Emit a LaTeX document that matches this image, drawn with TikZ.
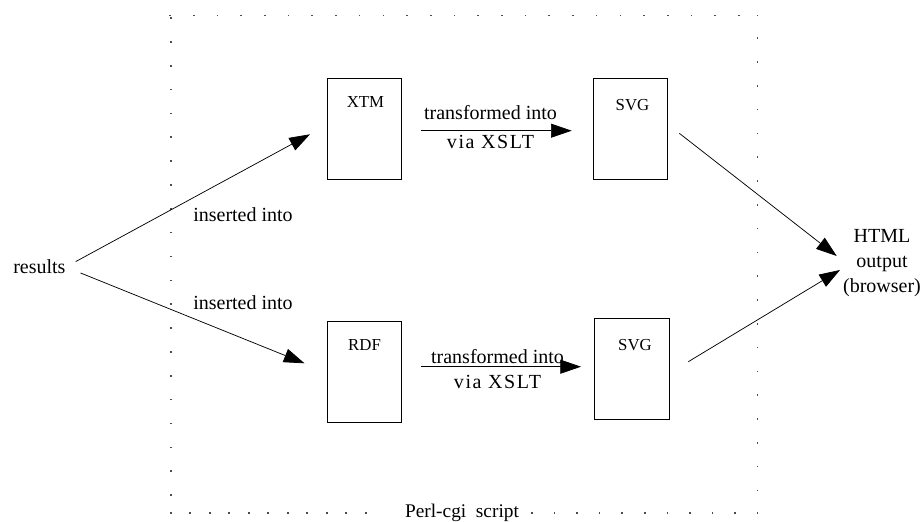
\documentclass[tikz,border=0pt]{standalone}
\usepackage{fontspec}
\setmainfont{Liberation Serif}
\usetikzlibrary{arrows.meta}
\begin{document}
\begin{tikzpicture}[x=0.75pt,y=-0.75pt,
  docbox/.style={draw,line width=0.6pt,inner sep=0pt,outer sep=0pt,
                 minimum width=55.5pt,minimum height=75.75pt},
  lbl/.style={inner sep=0pt,font=\fontsize{15}{18}\selectfont},
  small/.style={inner sep=0pt,font=\fontsize{12.6}{15}\selectfont},
  flow/.style={line width=0.55pt,-{Triangle[length=15.5pt,width=10.5pt]}},
  dotmark/.style={fill=black!70}]
\useasboundingbox (0,0) rectangle (923,521);

% dotted frame of the script
\foreach \i in {0,...,24} \fill[dotmark] ({170+\i*23.7-0.8},14.7) rectangle ++(1.6,1.6);
\fill[dotmark] (756.7,14.7) rectangle ++(1.6,1.6);
\foreach \j in {0,...,20} \fill[dotmark] (169.9,{18+\j*23.85-0.8}) rectangle ++(1.6,1.6);
\foreach \j in {-4,...,15} \fill[dotmark] (756.7,{133.3+\j*23.8-0.8}) rectangle ++(1.6,1.6);
\foreach \i in {0,...,10} \fill[dotmark] ({170.7+\i*19.5-0.8},512.2) rectangle ++(1.6,1.6);
\foreach \i in {0,...,10} \fill[dotmark] ({532+\i*22.55-0.8},512.2) rectangle ++(1.6,1.6);
\node[lbl,font=\fontsize{14.5}{18}\selectfont,anchor=base] (perl) at (462,517) {Perl-cgi\ \ script};

% documents
\node[docbox] (xtm) at (364,128.5) {};
\node[docbox] (svgtop) at (630,128.5) {};
\node[docbox] (rdf) at (364,371.5) {};
\node[docbox,minimum width=56.25pt] (svgbot) at (631.5,368.5) {};
\node[small] (xtmlbl) at (365.5,102) {XTM};
\node[small] (svgtoplbl) at (632.5,105) {SVG};
\node[small] (rdflbl) at (364.5,345) {RDF};
\node[small] (svgbotlbl) at (635,345) {SVG};

% source and sink
\node[lbl,anchor=west] (results) at (13,267) {results};
\node[lbl,align=center,font=\fontsize{15}{18.75}\selectfont] (html) at (882,263) {HTML\\output\\(browser)};

% edge labels
\node[lbl] (ins1) at (243,215) {inserted into};
\node[lbl] (ins2) at (243,303) {inserted into};
\node[lbl,align=center,font=\fontsize{15}{21.5}\selectfont] (tr1) at (490.5,127.3)
  {transformed into\\{\addfontfeature{LetterSpace=8}via XSLT}};
\node[lbl,align=center,font=\fontsize{15}{18.75}\selectfont] (tr2) at (497.5,369.2)
  {transformed into\\{\addfontfeature{LetterSpace=8}via XSLT}};

% arrow ends
\coordinate (inxtm) at (310,134.3);
\coordinate (inrdf) at (304.5,363.3);
\coordinate (outtop) at (679.3,133.3);
\coordinate (outbot) at (688.3,361.7);
\coordinate (htmlin1) at (836.7,256);
\coordinate (htmlin2) at (840,270);

% connectors
\draw[flow,shorten <=8.5pt] (results.east) -- (inxtm);
\draw[flow,shorten <=12pt] (results.east) -- (inrdf);
\draw[flow,shorten <=15pt,shorten >=16pt] (xtm.east |- 0,130.7) -- (svgtop.west |- 0,130.7);
\draw[flow,shorten <=15pt,shorten >=9.75pt] (rdf.east |- 0,366.7) -- (svgbot.west |- 0,366.7);
\draw[flow] (outtop) -- (htmlin1);
\draw[flow] (outbot) -- (htmlin2);
\end{tikzpicture}
\end{document}
